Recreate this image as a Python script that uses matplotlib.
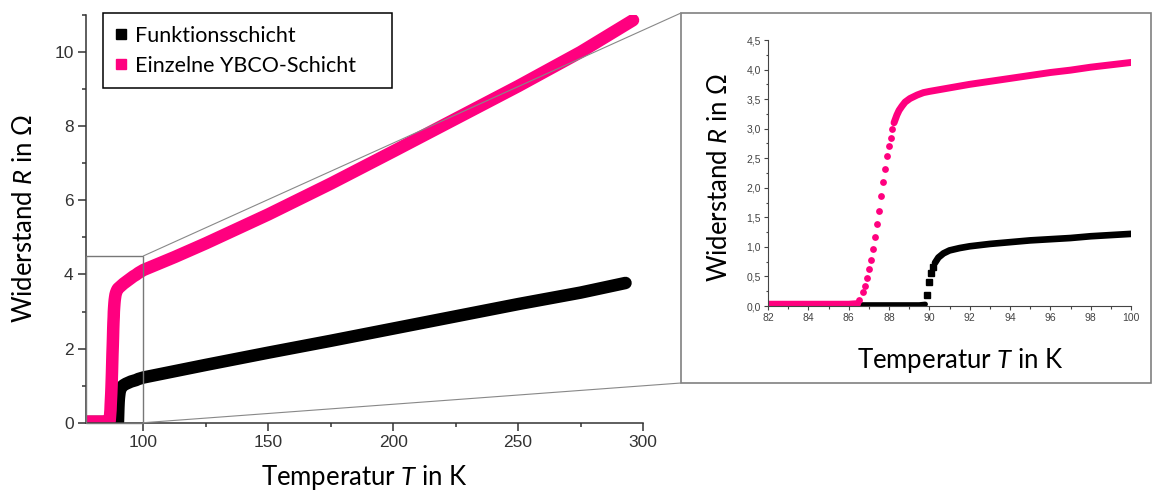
import matplotlib
matplotlib.use('Agg')
import matplotlib.pyplot as plt
from matplotlib.patches import Rectangle, ConnectionPatch
from matplotlib.lines import Line2D
from matplotlib.ticker import MultipleLocator, FuncFormatter

# Zahlen in Arial-Ersatz, Beschriftungen in Lato
plt.rcParams['font.family'] = ['Liberation Sans', 'DejaVu Sans']
plt.rcParams['mathtext.fontset'] = 'custom'
plt.rcParams['mathtext.rm'] = 'Lato'
plt.rcParams['mathtext.it'] = 'Lato:italic'
LABELFONT = ['Lato', 'DejaVu Sans']

PINK = '#ff007f'

# Einzelne YBCO-Schicht: Sockel, Sprungflanke, normalleitender Bereich (T in K, R in Ohm)
ybco_base_T = [77, 80, 82, 84, 86.0, 86.45]
ybco_base_R = [0.03, 0.03, 0.03, 0.03, 0.03, 0.04]
ybco_flank_T = [86.53, 86.69, 86.81, 86.89, 86.99, 87.11, 87.21, 87.31, 87.41,
                87.50, 87.60, 87.72, 87.82, 87.90, 87.99, 88.09, 88.15]
ybco_flank_R = [0.10, 0.24, 0.34, 0.48, 0.62, 0.78, 0.96, 1.16, 1.38,
                1.61, 1.86, 2.09, 2.32, 2.53, 2.71, 2.85, 2.99]
ybco_T = [88.25, 88.39, 88.5, 88.64, 88.8, 89.04, 89.4, 89.71, 90, 91, 92, 93,
          94, 95, 96, 97, 98, 99, 100, 112.5, 125, 150, 175, 200, 225, 250,
          275, 296]
ybco_R = [3.10, 3.23, 3.31, 3.38, 3.45, 3.51, 3.57, 3.61, 3.63, 3.69, 3.75, 3.80,
          3.85, 3.90, 3.95, 3.99, 4.04, 4.08, 4.12, 4.47, 4.84, 5.62, 6.45, 7.32,
          8.20, 9.08, 10.00, 10.86]

# Funktionsschicht
fkt_base_T = [77, 82, 85, 88, 89.5, 89.8]
fkt_base_R = [0.02, 0.02, 0.02, 0.02, 0.02, 0.03]
fkt_flank_T = [89.87, 89.97, 90.07, 90.17]
fkt_flank_R = [0.19, 0.41, 0.56, 0.66]
fkt_T = [90.28, 90.45, 90.7, 91.0, 91.5, 92, 93, 94, 95, 96, 97, 98, 99, 100,
         112.5, 125, 150, 175, 200, 225, 250, 275, 293]
fkt_R = [0.73, 0.82, 0.89, 0.94, 0.98, 1.01, 1.05, 1.08, 1.11, 1.13, 1.15, 1.18,
         1.20, 1.22, 1.39, 1.56, 1.89, 2.21, 2.54, 2.87, 3.20, 3.51, 3.77]

labels = ['Funktionsschicht', 'Einzelne YBCO-Schicht']
xlabel = 'Temperatur $T$ in K'
ylabel = 'Widerstand $R$ in Ω'

W, H = 1153, 491
fig = plt.figure(figsize=(W / 100, H / 100), dpi=100)

def px_axes(l, t, r, b):
    return [l / W, 1 - b / H, (r - l) / W, (b - t) / H]

ax = fig.add_axes(px_axes(86, 15, 643, 422.7))
axi = fig.add_axes(px_axes(768, 40, 1131, 306))

# Hauptdiagramm
line_kw = dict(solid_capstyle='round', solid_joinstyle='round')
ax.plot(fkt_base_T + fkt_flank_T + fkt_T, fkt_base_R + fkt_flank_R + fkt_R,
        color='black', lw=9, **line_kw)
ax.plot(ybco_base_T + ybco_flank_T + ybco_T, ybco_base_R + ybco_flank_R + ybco_R,
        color=PINK, lw=9, **line_kw)

ax.set_xlim(77, 300)
ax.set_ylim(0, 11)
ax.set_xticks([100, 150, 200, 250, 300])
ax.xaxis.set_minor_locator(MultipleLocator(25))
ax.yaxis.set_major_locator(MultipleLocator(2))
ax.yaxis.set_minor_locator(MultipleLocator(1))
for s in ['top', 'right']:
    ax.spines[s].set_visible(False)
for s in ['left', 'bottom']:
    ax.spines[s].set_color('#333333')
    ax.spines[s].set_linewidth(1.1)
ax.tick_params(which='both', direction='out', colors='#333333', width=1.1,
               labelsize=12.5, pad=3)
ax.tick_params(which='major', length=6)
ax.tick_params(which='minor', length=3)
ax.set_xlabel(xlabel, fontsize=18.5, family=LABELFONT)
ax.set_ylabel(ylabel, fontsize=18.5, family=LABELFONT)
ax.xaxis.set_label_coords(0.5, -0.098)
ax.yaxis.set_label_coords(-0.088, 0.5)

handles = [Line2D([], [], ls='none', marker='s', ms=6.5, color='black'),
           Line2D([], [], ls='none', marker='s', ms=6.5, color=PINK)]
leg = ax.legend(handles, labels, loc='upper left', mode='expand',
                bbox_to_anchor=(0.0305, 0, 0.519, 1.005), borderaxespad=0,
                prop={'family': LABELFONT, 'size': 15.5}, fancybox=False,
                framealpha=1, edgecolor='black', borderpad=0.6,
                handlelength=0.5, handletextpad=0.4, labelspacing=0.45)
leg.get_frame().set_linewidth(1.1)

# Ausschnitt 82-100 K markieren
ax.add_patch(Rectangle((77, 0), 23, 4.5, fill=False, ec='#777777', lw=1.0,
                       clip_on=False, zorder=5))

# Inset: Sprungtemperaturbereich
ilw = dict(solid_capstyle='round', solid_joinstyle='round')
axi.plot(fkt_base_T, fkt_base_R, color='black', lw=3.8, **ilw)
axi.plot(fkt_flank_T, fkt_flank_R, ls='none', marker='s', ms=3.8, color='black')
axi.plot(fkt_T, fkt_R, color='black', lw=4.8, **ilw)
axi.plot(ybco_base_T, ybco_base_R, color=PINK, lw=5, **ilw)
axi.plot(ybco_flank_T, ybco_flank_R, ls='none', marker='o', ms=4.9, color=PINK,
         mec='none')
axi.plot(ybco_T, ybco_R, color=PINK, lw=5, **ilw)

axi.set_xlim(82, 100)
axi.set_ylim(0, 4.5)
axi.xaxis.set_major_locator(MultipleLocator(2))
axi.xaxis.set_minor_locator(MultipleLocator(1))
axi.yaxis.set_major_locator(MultipleLocator(0.5))
axi.yaxis.set_minor_locator(MultipleLocator(0.25))
axi.yaxis.set_major_formatter(FuncFormatter(lambda v, p: f'{v:.1f}'.replace('.', ',')))
for s in ['top', 'right']:
    axi.spines[s].set_visible(False)
for s in ['left', 'bottom']:
    axi.spines[s].set_color('#444444')
    axi.spines[s].set_linewidth(0.8)
axi.tick_params(which='both', direction='out', colors='#444444', width=0.8,
                labelsize=7.5, pad=2)
axi.tick_params(which='major', length=3)
axi.tick_params(which='minor', length=1.8)
axi.set_xlabel(xlabel, fontsize=18.5, family=LABELFONT)
axi.set_ylabel(ylabel, fontsize=18.5, family=LABELFONT)
axi.xaxis.set_label_coords(0.53, -0.15)
axi.yaxis.set_label_coords(-0.099, 0.485)

# Rahmen um das Inset und Verbindungslinien
x0, y0 = 681 / W, 1 - 383 / H
x1, y1 = 1151 / W, 1 - 13 / H
fig.add_artist(Rectangle((x0, y0), x1 - x0, y1 - y0, transform=fig.transFigure,
                         fill=False, ec='#808080', lw=1.2))
for yd, yf in [(4.5, y1), (0, y0)]:
    con = ConnectionPatch(xyA=(100, yd), coordsA=ax.transData,
                          xyB=(x0, yf), coordsB=fig.transFigure,
                          color='#888888', lw=0.8, zorder=10)
    fig.add_artist(con)

fig.savefig('out.png', dpi=100)
